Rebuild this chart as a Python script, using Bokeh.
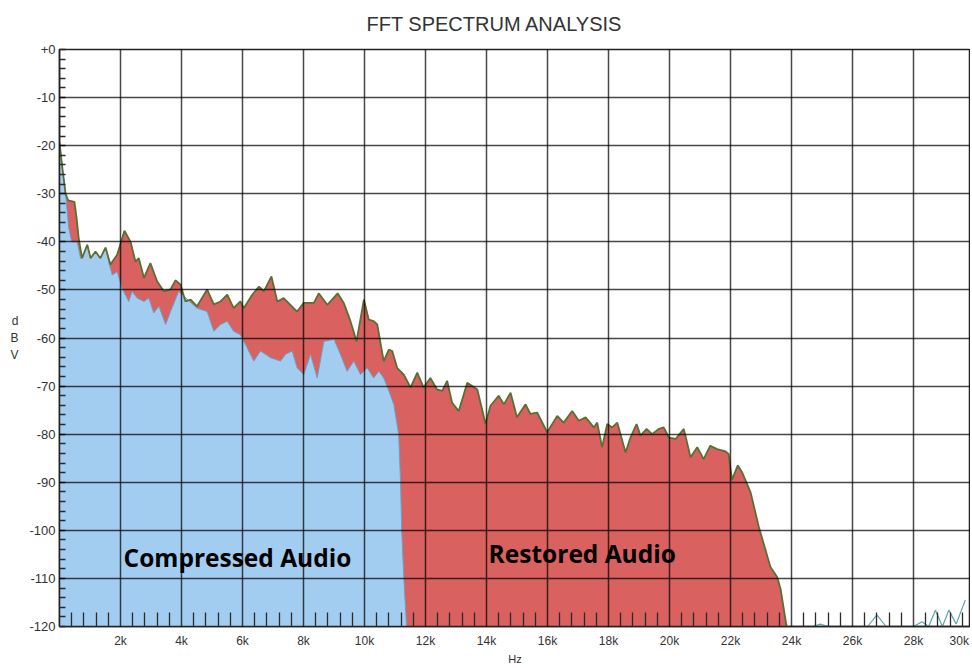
from bokeh.plotting import figure
from bokeh.models import Range1d, FixedTicker, Label
from bokeh.embed import file_html
from bokeh.resources import INLINE

# ---------------- data ----------------
restored_hz = [0, 100, 200, 280, 350, 490, 560, 630, 740, 910, 1020, 1180, 1340, 1510,
               1670, 1890, 2130, 2330, 2490, 2600, 2770, 2980, 3200, 3420, 3640, 3800,
               3970, 4130, 4300, 4510, 4840, 5060, 5280, 5500, 5710, 5930, 6040, 6320,
               6540, 6700, 6950, 7140, 7350, 7570, 7790, 8010, 8340, 8500, 8780, 9120,
               9320, 9540, 9740, 9980, 10140, 10300, 10420, 10630, 10800, 10910, 11070,
               11290, 11510, 11730, 11940, 12160, 12380, 12550, 12710, 12870, 13090,
               13370, 13700, 13970, 14130, 14400, 14570, 14790, 15000, 15280, 15440,
               15660, 15990, 16320, 16530, 16810, 17030, 17250, 17520, 17630, 17790,
               17960, 18120, 18290, 18560, 18720, 18920, 19050, 19250, 19430, 19650,
               19810, 19980, 20200, 20470, 20690, 20910, 21120, 21340, 21560, 21840,
               21940, 22050, 22240, 22380, 22660, 22930, 23090, 23310, 23530, 23640,
               23840]
restored_db = [-19.3, -25, -30, -31.3, -31.5, -31.7, -35, -39.3, -43.4, -40.6, -43.4, -42,
               -43.4, -41.2, -44.7, -42.7, -37.7, -40, -44.1, -43.4, -47.5, -44.4, -48.2,
               -50.3, -49.9, -48, -48.9, -52.4, -52, -53.4, -49.9, -53, -52.4, -51, -53.8,
               -52.4, -53.8, -51, -49.3, -50.3, -47.2, -52.4, -51.7, -53.1, -54.5, -52.7,
               -52.7, -50.7, -53.1, -50.7, -52.7, -56.5, -60.7, -52, -56.2, -56.5, -57.2,
               -64.8, -62.4, -62.7, -66.2, -67.6, -70.3, -67.2, -70.3, -68.3, -70.7, -71,
               -68.9, -73.4, -75.2, -69.3, -70.7, -77.9, -74.1, -72, -73.8, -71.4, -76.5,
               -73.8, -75.8, -75.5, -79.6, -76.2, -77.6, -75.2, -77.2, -76.5, -78.6,
               -77.6, -82.7, -77.9, -78.6, -77.6, -83.8, -80.7, -77.9, -80.3, -78.9, -80,
               -78.9, -78.6, -80.7, -81, -78.9, -84.8, -82.7, -85.2, -82.4, -83.1, -83.6,
               -84.1, -89.5, -86.5, -87.9, -92.1, -99.3, -102.8, -107.6, -109.7, -112.1,
               -120]

compressed_hz = [0, 100, 200, 300, 400, 580, 690, 740, 910, 1020, 1180, 1340, 1510, 1620,
                 1730, 1890, 2050, 2270, 2380, 2550, 2770, 2930, 3090, 3260, 3480, 3640,
                 3910, 4080, 4300, 4510, 4840, 5060, 5280, 5500, 5710, 5930, 6150, 6370,
                 6590, 6920, 7250, 7410, 7630, 7790, 8010, 8230, 8450, 8670, 9000, 9210,
                 9430, 9650, 9870, 10090, 10300, 10470, 10630, 10800, 10960, 11120, 11180,
                 11220, 11290, 11380]
compressed_db = [-19.3, -25, -30, -37, -40, -40, -43.4, -43.4, -40.6, -43.4, -42, -43.4,
                 -41.2, -44.4, -46.9, -46.2, -49.6, -52.4, -50.3, -51.7, -52.4, -51.7,
                 -54.8, -53.4, -57.2, -54.5, -50.3, -51.3, -52.6, -53.8, -54.5, -58.6,
                 -57.2, -56.5, -58.6, -59.3, -62, -64.8, -62.7, -64.1, -64.8, -63.4, -62.7,
                 -66.2, -67.6, -63.4, -68.3, -60.7, -60.3, -63.4, -66.9, -64.8, -67.6,
                 -66.2, -68.3, -66.9, -68.3, -71, -73.8, -80, -89.6, -100, -110, -120]

noise_hz = [23840, 24700, 24950, 25200, 26500, 26800, 27100, 28000, 28280, 28500, 28720,
            28950, 29160, 29400, 29700]
noise_db = [-120, -120, -119.5, -120, -120, -117.6, -120, -120, -119, -120, -116.6, -120,
            -116.6, -119.5, -114.5]

x_major = list(range(2000, 30001, 2000))
x_minor = [f for f in range(400, 30000, 400) if f % 2000 != 0]
y_major = list(range(-120, 1, 10))
y_minor = list(range(-120, 1, 2))
x_labels = {f: f"{f // 1000}k" for f in x_major}
y_labels = {v: ("+0" if v == 0 else str(v)) for v in y_major}

title_text = "FFT SPECTRUM ANALYSIS"
compressed_text = "Compressed Audio"
restored_text = "Restored Audio"
y_unit_text = "d\nB\nV"
x_unit_text = "Hz"

# ---------------- figure ----------------
X_END = 29870            # right edge of the visible frame (the reference is cropped here)
LAST_LABEL_POS = 29500   # where the cropped "30k" label sits in the reference
p = figure(width=970, height=668, output_backend="svg", toolbar_location=None,
           x_range=Range1d(0, X_END), y_range=Range1d(-120, 0),
           min_border_left=59, min_border_right=0, min_border_top=47,
           min_border_bottom=42)
p.background_fill_color = "white"
p.border_fill_color = "white"
p.outline_line_color = "#222222"
p.outline_line_width = 1.5

RED = "#d9615f"
BLUE = "#a3cdf0"

p.varea(x=restored_hz, y1=-120, y2=restored_db, fill_color=RED)
p.varea(x=compressed_hz, y1=-120, y2=compressed_db, fill_color=BLUE)
p.line(compressed_hz, compressed_db, line_color="#6f9ec4", line_width=1)
p.line(restored_hz, restored_db, line_color="#5c6e34", line_width=1.8)
p.line(noise_hz, noise_db, line_color="#5aa5a8", line_width=1.2)

# axes
font = "Liberation Sans"
axis_ticks = [t for t in x_major if t < X_END] + [LAST_LABEL_POS]
axis_labels = {t: x_labels[t] for t in x_major if t < X_END}
axis_labels[LAST_LABEL_POS] = x_labels[30000]
p.xaxis.ticker = FixedTicker(ticks=axis_ticks, minor_ticks=x_minor)
p.xgrid.ticker = FixedTicker(ticks=x_major)
p.yaxis.ticker = FixedTicker(ticks=y_major, minor_ticks=y_minor)
p.xaxis.major_label_overrides = axis_labels
p.yaxis.major_label_overrides = y_labels
for ax in (p.xaxis[0], p.yaxis[0]):
    ax.major_label_text_font = font
    ax.major_label_text_color = "#333333"
    ax.axis_line_color = "#222222"
    ax.axis_line_width = 1.5
    ax.major_tick_in = 0
    ax.major_tick_out = 0
    ax.minor_tick_out = 0
    ax.minor_tick_line_color = "#2a2a2a"
    ax.minor_tick_line_width = 1.3
    ax.axis_label_text_font = font
    ax.axis_label_text_font_style = "normal"
    ax.axis_label_text_color = "#333333"
p.xaxis.major_label_text_font_size = "12px"
p.yaxis.major_label_text_font_size = "13px"
p.xaxis.minor_tick_in = 14
p.yaxis.minor_tick_in = 6
p.xaxis.major_label_standoff = 7
p.yaxis.major_label_standoff = 4
p.xaxis.axis_label = x_unit_text
p.xaxis.axis_label_text_font_size = "11px"
p.xaxis.axis_label_standoff = 2
p.yaxis.axis_label = y_unit_text
p.yaxis.axis_label_orientation = "horizontal"
p.yaxis.axis_label_text_font_size = "12px"
p.yaxis.axis_label_standoff = 8

# grid drawn over the filled areas
p.grid.grid_line_color = "black"
p.grid.grid_line_alpha = 0.72
p.grid.grid_line_width = 1.5
p.grid.level = "guide"

# title
p.title.text = title_text
p.title.align = "left"
p.title.offset = 307
p.title.text_font = font
p.title.text_font_size = "20px"
p.title.text_font_style = "normal"
p.title.text_color = "#333333"
p.title.text_line_height = 1.0
p.title.vertical_align = "top"
p.title.standoff = 25

# in-plot texts
p.add_layout(Label(x=2100, y=-105.6, text=compressed_text, text_align="left",
                   text_baseline="middle", text_font="Open Sans", text_font_style="bold",
                   text_font_size="24.5px", text_color="black"))
p.add_layout(Label(x=14070, y=-104.8, text=restored_text, text_align="left",
                   text_baseline="middle", text_font="Open Sans", text_font_style="bold",
                   text_font_size="24.5px", text_color="black"))

open("out.html", "w").write(file_html(p, INLINE))
